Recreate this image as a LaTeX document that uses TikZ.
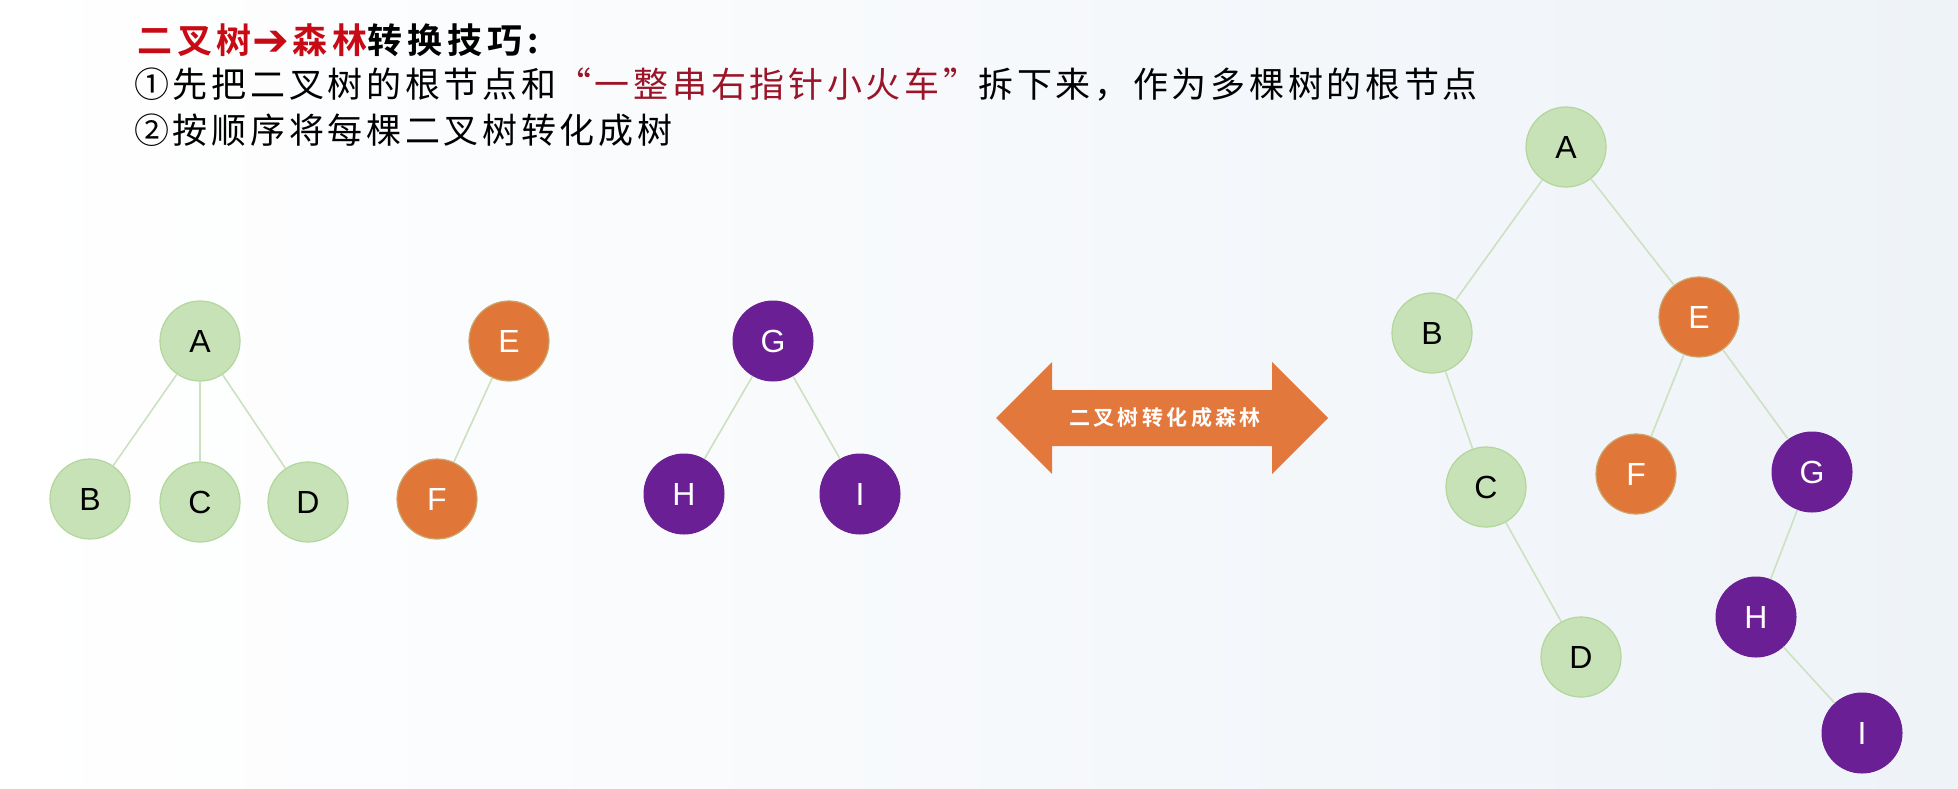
\documentclass[tikz,border=0pt]{standalone}
\usepackage{fontspec}
\setmainfont{Liberation Sans}
\newfontfamily\cjk{Noto Sans CJK SC}[LetterSpace=10.6]
\newfontfamily\cjkb{Noto Sans CJK SC Bold}[LetterSpace=14]
\newfontfamily\cjkarrow{Noto Sans CJK SC Bold}[LetterSpace=16]
\newfontfamily\symfont{DejaVu Sans}
\definecolor{ngreen}{RGB}{199,226,182}
\definecolor{ngreenb}{RGB}{178,214,155}
\definecolor{norange}{RGB}{225,118,57}
\definecolor{npurple}{RGB}{106,31,148}
\definecolor{tred}{RGB}{200,10,20}
\definecolor{tdred}{RGB}{155,20,40}
\definecolor{edgec}{RGB}{205,225,192}
\definecolor{arrowo}{RGB}{226,120,60}
\definecolor{bgright}{RGB}{238,243,248}
\begin{document}
\begin{tikzpicture}[x=1pt,y=-1pt,
  tn/.style={circle, minimum size=80pt, inner sep=0pt, font=\fontsize{32}{32}\selectfont},
  gn/.style={tn, fill=ngreen, draw=ngreenb, line width=1.2pt, text=black},
  on/.style={tn, fill=norange, draw=ngreenb!50!norange, line width=1.2pt, text=white},
  pn/.style={tn, fill=npurple, draw=npurple, line width=1pt, text=white},
  edge/.style={draw=edgec, line width=1.6pt},
  txt/.style={anchor=west, inner sep=0pt, font=\cjk\fontsize{35}{35}\selectfont}
]
\useasboundingbox (0,0) rectangle (1958,788);
\shade[left color=white, right color=bgright] (0,0) rectangle (1958,788);

% title text
\node[txt, font=\cjkb\fontsize{35}{35}\selectfont] (t1) at (137,40)
  {\textcolor{tred}{二叉树\raisebox{-2pt}{\symfont\fontsize{44}{44}\selectfont ➔}\hspace{4pt}森林}转换技巧:};
\node[txt] (t2) at (134,85)
  {①先把二叉树的根节点和\textcolor{tdred}{“一整串右指针小火车”}拆下来，作为多棵树的根节点};
\node[txt] (t3) at (134,130) {②按顺序将每棵二叉树转化成树};

% left forest
\node[gn] (LA) at (200,341) {A};
\node[gn] (LB) at (90,499) {B};
\node[gn] (LC) at (200,502) {C};
\node[gn] (LD) at (308,502) {D};
\node[on] (LE) at (509,341) {E};
\node[on] (LF) at (437,499) {F};
\node[pn] (LG) at (773,341) {G};
\node[pn] (LH) at (684,494) {H};
\node[pn] (LI) at (860,494) {I};

% right binary tree
\node[gn] (RA) at (1566,147) {A};
\node[gn] (RB) at (1432,333) {B};
\node[on] (RE) at (1699,317) {E};
\node[gn] (RC) at (1486,487) {C};
\node[on] (RF) at (1636,474) {F};
\node[pn] (RG) at (1812,472) {G};
\node[gn] (RD) at (1581,657) {D};
\node[pn] (RH) at (1756,617) {H};
\node[pn] (RI) at (1862,733) {I};

\path[edge] (LA) -- (LB) (LA) -- (LC) (LA) -- (LD)
  (LE) -- (LF) (LG) -- (LH) (LG) -- (LI)
  (RA) -- (RB) (RA) -- (RE) (RB) -- (RC) (RC) -- (RD)
  (RE) -- (RF) (RE) -- (RG) (RG) -- (RH) (RH) -- (RI);

% double arrow
\fill[arrowo] (996,418) -- (1052,362) -- (1052,390) -- (1272,390) -- (1272,362)
  -- (1328,418) -- (1272,474) -- (1272,446) -- (1052,446) -- (1052,474) -- cycle;
\node[text=white, inner sep=0pt, font=\cjkarrow\fontsize{21}{21}\selectfont] (lbl) at (1165,418) {二叉树转化成森林};
\end{tikzpicture}
\end{document}
